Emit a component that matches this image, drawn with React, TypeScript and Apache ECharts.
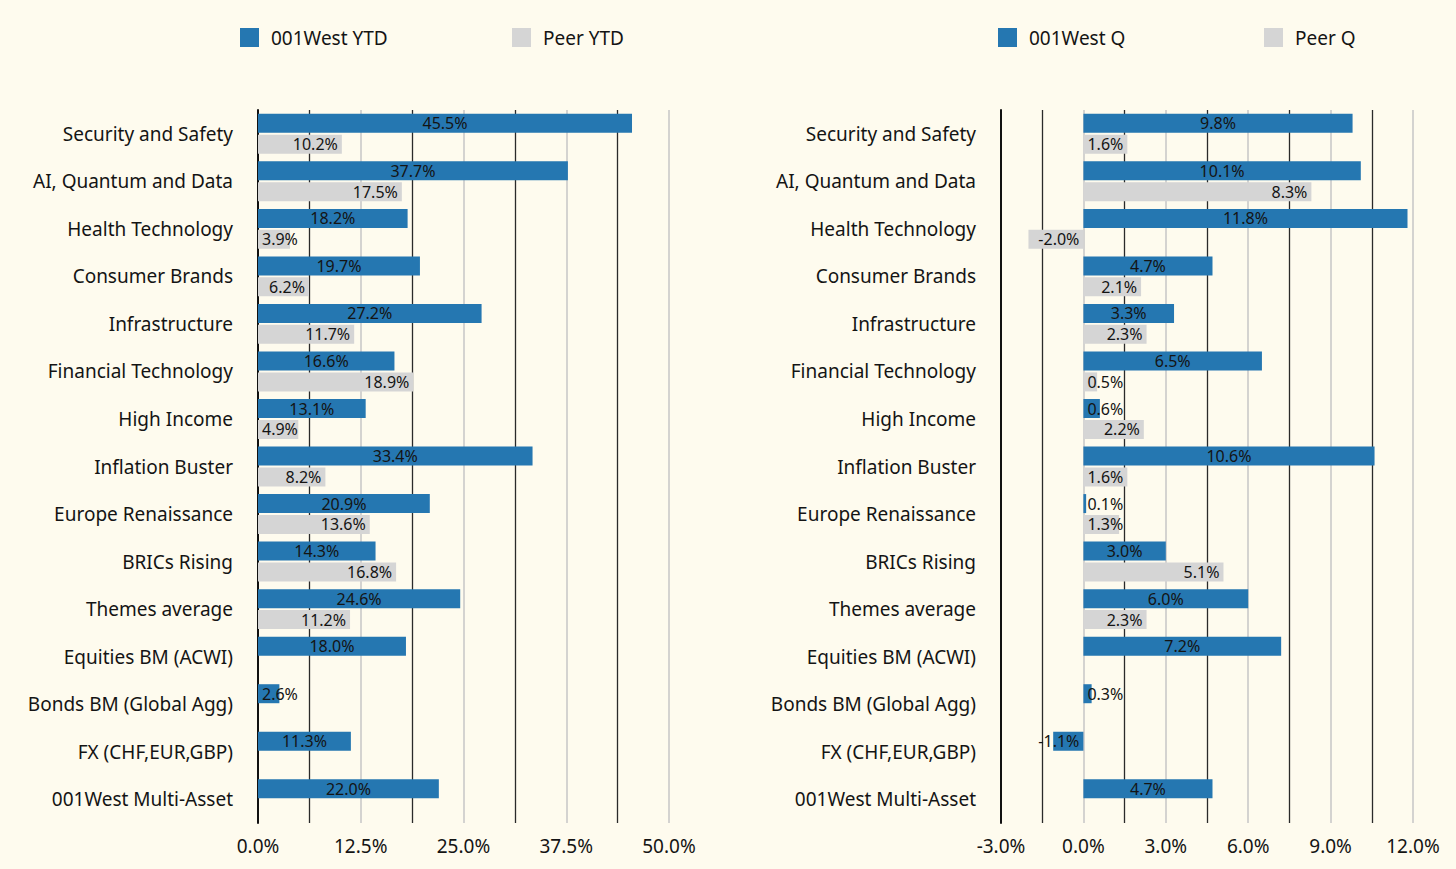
import React, { useEffect, useRef } from "react";
import * as echarts from "echarts";

const categories = [
  "Security and Safety",
  "AI, Quantum and Data",
  "Health Technology",
  "Consumer Brands",
  "Infrastructure",
  "Financial Technology",
  "High Income",
  "Inflation Buster",
  "Europe Renaissance",
  "BRICs Rising",
  "Themes average",
  "Equities BM (ACWI)",
  "Bonds BM (Global Agg)",
  "FX (CHF,EUR,GBP)",
  "001West Multi-Asset",
];

const westYTD = [45.5, 37.7, 18.2, 19.7, 27.2, 16.6, 13.1, 33.4, 20.9, 14.3, 24.6, 18.0, 2.6, 11.3, 22.0];
const peerYTD: (number | null)[] = [10.2, 17.5, 3.9, 6.2, 11.7, 18.9, 4.9, 8.2, 13.6, 16.8, 11.2, null, null, null, null];
const westQ = [9.8, 10.1, 11.8, 4.7, 3.3, 6.5, 0.6, 10.6, 0.1, 3.0, 6.0, 7.2, 0.3, -1.1, 4.7];
const peerQ: (number | null)[] = [1.6, 8.3, -2.0, 2.1, 2.3, 0.5, 2.2, 1.6, 1.3, 5.1, 2.3, null, null, null, null];

const ytdTicks = { min: 0, max: 50, interval: 12.5 };
const qTicks = { min: -3, max: 12, interval: 3 };

const BLUE = "#2577b1";
const GRAY = "#d5d5d5";
const BG = "#fefbee";
const FONT = "'Noto Sans', Lato, sans-serif";
const TEXT = "#141414";

function buildData(vals: (number | null)[], fitThreshold: number, defaultPos: string) {
  return vals.map((v) => {
    if (v === null) return { value: null };
    const mag = Math.abs(v);
    let position = defaultPos;
    if (mag < fitThreshold) position = "insideLeft";
    if (v < 0) position = "insideRight";
    return { value: v, label: { position } };
  });
}

export default function App() {
  const ref = useRef<HTMLDivElement>(null);
  useEffect(() => {
    document.body.style.margin = "0";
    document.body.style.background = BG;
    const chart = echarts.init(ref.current!, undefined, { renderer: "svg" });
    const pct = (v: number) => v.toFixed(1) + "%";
    const labelBase = {
      show: true,
      fontSize: 16,
      fontFamily: FONT,
      color: TEXT,
      distance: 4,
      formatter: (p: any) => (p.value === null || p.value === undefined ? "" : pct(p.value)),
    };
    const xAxisCommon = (t: { min: number; max: number; interval: number }, gi: number) => ({
      type: "value",
      gridIndex: gi,
      min: t.min,
      max: t.max,
      interval: t.interval,
      axisLine: { show: false },
      axisTick: { show: false },
      axisLabel: {
        formatter: (v: number) => pct(v),
        fontSize: 19,
        fontFamily: FONT,
        color: TEXT,
        margin: 13,
      },
      splitLine: { show: true, lineStyle: { color: "#c6c6c6", width: 1.5 } },
      minorTick: { show: false, splitNumber: 2 },
      minorSplitLine: { show: true, lineStyle: { color: "#2a2a2a", width: 1.3 } },
    });
    const yAxisCommon = (gi: number) => ({
      type: "category",
      gridIndex: gi,
      data: categories,
      inverse: true,
      axisLine: { show: true, onZero: false, lineStyle: { color: "#111", width: 2 } },
      axisTick: { show: false },
      axisLabel: { fontSize: 19, fontFamily: FONT, color: TEXT, margin: 25 },
      splitLine: { show: false },
    });
    const legend = (name: string, left: number) => ({
      data: [name],
      left: left - 5,
      top: 23,
      icon: "rect",
      itemWidth: 19,
      itemHeight: 19,
      textStyle: { fontSize: 19, fontFamily: FONT, color: TEXT, padding: [0, 0, 0, 7] },
    });
    chart.setOption({
      animation: false,
      backgroundColor: BG,
      legend: [
        legend("001West YTD", 240),
        legend("Peer YTD", 512),
        legend("001West Q", 998),
        legend("Peer Q", 1264),
      ],
      grid: [
        { left: 258, width: 411, top: 110, bottom: 46 },
        { left: 1001, width: 412, top: 110, bottom: 46 },
      ],
      xAxis: [xAxisCommon(ytdTicks, 0), xAxisCommon(qTicks, 1)],
      yAxis: [yAxisCommon(0), yAxisCommon(1)],
      series: [
        {
          name: "001West YTD",
          type: "bar",
          xAxisIndex: 0,
          yAxisIndex: 0,
          barWidth: 19,
          barGap: "10%",
          itemStyle: { color: BLUE },
          label: { ...labelBase, position: "inside" },
          data: buildData(westYTD, 5.5, "inside"),
        },
        {
          name: "Peer YTD",
          type: "bar",
          xAxisIndex: 0,
          yAxisIndex: 0,
          barWidth: 19,
          barGap: "10%",
          itemStyle: { color: GRAY },
          label: { ...labelBase, position: "insideRight" },
          data: buildData(peerYTD, 5.5, "insideRight"),
        },
        {
          name: "001West Q",
          type: "bar",
          xAxisIndex: 1,
          yAxisIndex: 1,
          barWidth: 19,
          barGap: "10%",
          itemStyle: { color: BLUE },
          label: { ...labelBase, position: "inside" },
          data: buildData(westQ, 1.5, "inside"),
        },
        {
          name: "Peer Q",
          type: "bar",
          xAxisIndex: 1,
          yAxisIndex: 1,
          barWidth: 19,
          barGap: "10%",
          itemStyle: { color: GRAY },
          label: { ...labelBase, position: "insideRight" },
          data: buildData(peerQ, 1.5, "insideRight"),
        },
      ],
    });
    return () => chart.dispose();
  }, []);
  return <div ref={ref} style={{ position: "fixed", left: 0, top: 0, width: 1456, height: 869 }} />;
}
